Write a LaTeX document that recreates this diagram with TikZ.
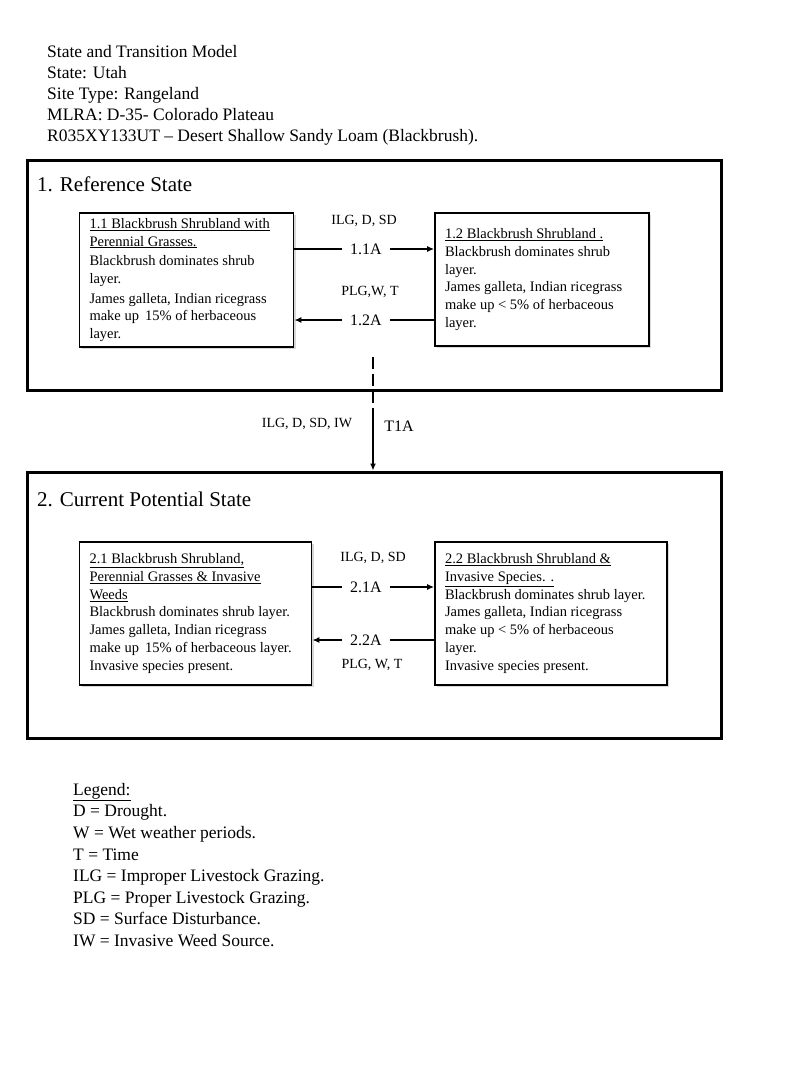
\documentclass[tikz,border=0pt]{standalone}
\usepackage{fontspec}
\setmainfont{Liberation Serif}
\usetikzlibrary{arrows.meta,shadows}

\begin{document}
\begin{tikzpicture}[x=1pt,y=-1pt,
    statebox/.style ={rectangle, draw, line width=3pt, minimum width=694pt},
    phasebox/.style ={rectangle, draw, line width=1.8pt, fill=white, inner xsep=10pt, align=flush left,
      drop shadow={shadow xshift=2pt, shadow yshift=-2pt, opacity=.3},
      font=\fontsize{14.5}{17.7}\selectfont},
    pathlabel/.style ={inner xsep=8pt, inner ysep=1pt, font=\fontsize{16}{18}\selectfont},
    driver/.style ={inner sep=1pt, font=\fontsize{14}{16}\selectfont},
    trans/.style ={line width=1.3pt, -{Latex[length=7pt,width=6pt]}}]
   \useasboundingbox[fill=white] (0,0) rectangle (800,1067);
   % header
   \node[anchor=north west, inner sep=0pt, align=flush left, font=\fontsize{17.5}{21}\selectfont] (head) at (47,45)
     {State and Transition Model\\ State: Utah\\ Site Type: Rangeland\\ MLRA: D-35- Colorado Plateau\\
      R035XY133UT -- Desert Shallow Sandy Loam (Blackbrush).};
   % state 1
   \node[statebox, minimum height=229pt] (S1) at (374,275.5) {};
   \node[anchor=base west, inner sep=0pt, font=\fontsize{21}{24}\selectfont] (S1title) at (37,192) {1. Reference State};
   \node[phasebox, text width=194pt, minimum height=134pt] (A11) at (186.5,280)
     {\underline{1.1 Blackbrush Shrubland with}\\ \underline{Perennial Grasses.}\\[2pt]
      Blackbrush dominates shrub\\ layer.\\[2pt] James galleta, Indian ricegrass\\ make up\, 15\% of herbaceous\\ layer.};
   \node[phasebox, text width=194pt, minimum height=133pt] (B12) at (542,279.5)
     {\underline{1.2 Blackbrush Shrubland .}\\ Blackbrush dominates shrub\\ layer.\\
      James galleta, Indian ricegrass\\ make up < 5\% of herbaceous\\ layer.};
   \node[driver] (d11) at (364,221) {ILG, D, SD};
   \node[pathlabel] (t11) at (366,249) {1.1A};
   \node[driver] (d12) at (370,292) {PLG,W, T};
   \node[pathlabel] (t12) at (366,320) {1.2A};
   \draw[line width=1.3pt] (A11.east |- t11) -- (t11.west);
   \draw[trans] (t11.east) -- (B12.west |- t11);
   \draw[line width=1.3pt] (B12.west |- t12) -- (t12.east);
   \draw[trans] (t12.west) -- (A11.east |- t12);
   % state 2
   \node[statebox, minimum height=266pt] (S2) at (374,605) {};
   \node[anchor=base west, inner sep=0pt, font=\fontsize{21}{24}\selectfont] (S2title) at (37,506) {2. Current Potential State};
   \node[phasebox, text width=212pt, minimum height=143pt] (A21) at (195.5,613.5)
     {\underline{2.1 Blackbrush Shrubland,}\\ \underline{Perennial Grasses \& Invasive}\\ \underline{Weeds}\\
      Blackbrush dominates shrub layer.\\ James galleta, Indian ricegrass\\ make up\, 15\% of herbaceous layer.\\
      Invasive species present.};
   \node[phasebox, text width=212pt, minimum height=143pt] (B22) at (551,613.5)
     {\underline{2.2 Blackbrush Shrubland \&}\\ \underline{Invasive Species. .}\\
      Blackbrush dominates shrub layer.\\ James galleta, Indian ricegrass\\ make up < 5\% of herbaceous\\ layer.\\
      Invasive species present.};
   \node[driver] (d21) at (373,558) {ILG, D, SD};
   \node[pathlabel] (t21) at (366,587) {2.1A};
   \node[pathlabel] (t22) at (366,640) {2.2A};
   \node[driver] (d22) at (372,665) {PLG, W, T};
   \draw[line width=1.3pt] (A21.east |- t21) -- (t21.west);
   \draw[trans] (t21.east) -- (B22.west |- t21);
   \draw[line width=1.3pt] (B22.west |- t22) -- (t22.east);
   \draw[trans] (t22.west) -- (A21.east |- t22);
   % transition 1 -> 2
   \coordinate (T1top) at (373,357);
   \coordinate (T1mid) at (373,416);
   \draw[line width=2pt, dash pattern=on 12pt off 5pt] (T1top) -- (T1mid);
   \draw[trans] (T1mid) -- (T1mid |- S2.north);
   \node[driver] (dT1) at (307,424) {ILG, D, SD, IW};
   \node[inner sep=1pt, font=\fontsize{16}{18}\selectfont] (tT1) at (399,426) {T1A};
   % legend
   \node[anchor=north west, inner sep=0pt, align=flush left, font=\fontsize{17.5}{21.6}\selectfont] (legend) at (73,783)
     {\underline{Legend:}\\ D = Drought.\\ W = Wet weather periods.\\ T = Time\\ ILG = Improper Livestock Grazing.\\
      PLG = Proper Livestock Grazing.\\ SD = Surface Disturbance.\\ IW = Invasive Weed Source.};
 \end{tikzpicture}
\end{document}
